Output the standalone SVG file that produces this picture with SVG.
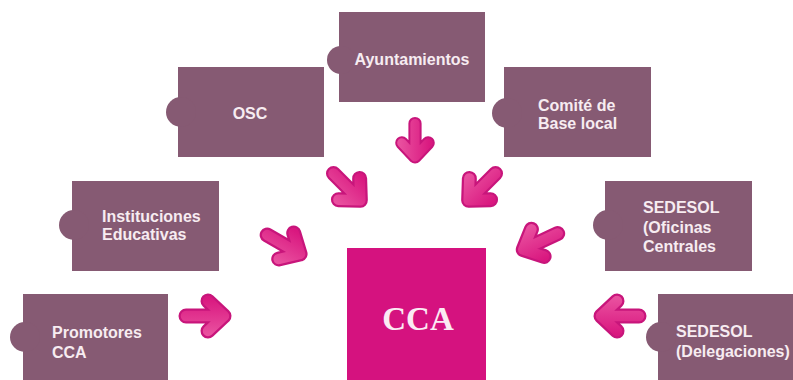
<svg xmlns="http://www.w3.org/2000/svg" xmlns:xlink="http://www.w3.org/1999/xlink" width="793" height="380" viewBox="0 0 793 380">
<style>
.box{fill:#865A73}
.lbl{font-family:"Liberation Sans",Arial,sans-serif;font-weight:bold;font-size:16px;fill:#F7ECF1}
.cca{font-family:"Liberation Serif","Times New Roman",serif;font-weight:bold;font-size:33px;fill:#FBEAF3}
.ao{fill:none;stroke:#C8157B;stroke-width:15;stroke-linecap:round;stroke-linejoin:round}
.ai{fill:none;stroke:url(#ag);stroke-width:10.5;stroke-linecap:round;stroke-linejoin:round}
</style>
<defs>
<linearGradient id="ag" gradientUnits="userSpaceOnUse" x1="0" y1="-18" x2="0" y2="18">
<stop offset="0" stop-color="#D9177F"/>
<stop offset="1" stop-color="#E9509F"/>
</linearGradient>
<g id="arrow">
<path class="ao" d="M-46,0 L-10,0 M-24,-15 L-8,0 L-24,15"/>
<path class="ai" d="M-46,0 L-10,0 M-24,-15 L-8,0 L-24,15"/>
</g>
</defs>
<rect width="793" height="380" fill="#FFFFFF"/>

<g id="ayuntamientos">
<rect class="box" x="339" y="12" width="146" height="90"/>
<circle class="box" cx="341" cy="60" r="14"/>
<text class="lbl" x="412" y="65" text-anchor="middle">Ayuntamientos</text>
</g>

<g id="osc">
<rect class="box" x="178" y="67" width="146" height="90"/>
<circle class="box" cx="181" cy="112" r="15"/>
<text class="lbl" x="250" y="119" text-anchor="middle">OSC</text>
</g>

<g id="comite">
<rect class="box" x="504" y="67" width="147" height="90"/>
<circle class="box" cx="507" cy="113" r="15"/>
<text class="lbl" x="538" y="111">Comité de</text>
<text class="lbl" x="538" y="129">Base local</text>
</g>

<g id="instituciones">
<rect class="box" x="72" y="181" width="147" height="90"/>
<circle class="box" cx="74" cy="225" r="15"/>
<text class="lbl" x="102" y="222">Instituciones</text>
<text class="lbl" x="102" y="240">Educativas</text>
</g>

<g id="promotores">
<rect class="box" x="23" y="294" width="145" height="90"/>
<circle class="box" cx="25" cy="337" r="15"/>
<text class="lbl" x="52" y="338">Promotores</text>
<text class="lbl" x="52" y="358">CCA</text>
</g>

<g id="sedesol-oficinas">
<rect class="box" x="605" y="181" width="147" height="90"/>
<circle class="box" cx="608" cy="225" r="15"/>
<text class="lbl" x="643" y="213">SEDESOL</text>
<text class="lbl" x="643" y="233">(Oficinas</text>
<text class="lbl" x="643" y="252">Centrales</text>
</g>

<g id="sedesol-delegaciones">
<rect class="box" x="658" y="294" width="140" height="90"/>
<circle class="box" cx="661" cy="337" r="15"/>
<text class="lbl" x="676" y="337">SEDESOL</text>
<text class="lbl" x="676" y="357">(Delegaciones)</text>
</g>

<g id="cca">
<rect x="347" y="248" width="139" height="132" fill="#D5127F"/>
<text class="cca" x="418" y="330" text-anchor="middle">CCA</text>
</g>

<g id="connectors">
<use xlink:href="#arrow" transform="translate(415,164) rotate(90) scale(0.88)"/>
<use xlink:href="#arrow" transform="translate(366,206) rotate(45)"/>
<use xlink:href="#arrow" transform="translate(463,206) rotate(135)"/>
<use xlink:href="#arrow" transform="translate(307,258) rotate(30)"/>
<use xlink:href="#arrow" transform="translate(232,316)"/>
<use xlink:href="#arrow" transform="translate(516,253) rotate(155)"/>
<use xlink:href="#arrow" transform="translate(593,316) rotate(180)"/>
</g>
</svg>
